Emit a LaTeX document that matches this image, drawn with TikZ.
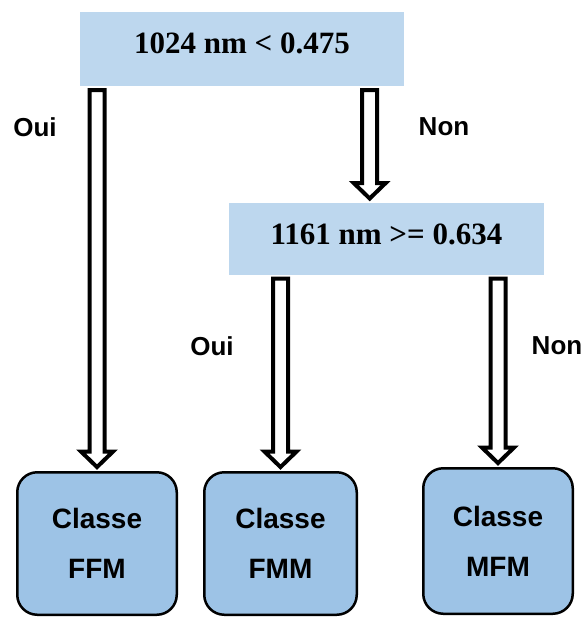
\documentclass[tikz,border=0pt]{standalone}
\usepackage{fontspec}
\setmainfont{Liberation Serif}
\setsansfont{Liberation Sans}
\usetikzlibrary{calc}

\definecolor{testblue}{HTML}{BDD7EE}
\definecolor{classblue}{HTML}{9DC3E6}

\tikzset{
    test/.style={rectangle, fill=testblue, inner sep=0pt, outer sep=2pt, font=\fontsize{15.5}{18}\selectfont\bfseries},
    classbox/.style={rectangle, rounded corners=10pt, draw, line width=1.25pt, fill=classblue, inner sep=0pt, outer sep=2.6pt, align=center, font=\sffamily\bfseries\fontsize{14}{25}\selectfont},
    answer/.style={font=\sffamily\bfseries\fontsize{13}{15}\selectfont},
    blockline/.style={draw=black, fill=white, line width=2pt}
}

% hollow block arrow from #1 down to #2
\newcommand{\blockarrow}[2]{%
    \draw[blockline] ($(#1)+(-7.5,0)$) -- ($(#2)+(-7.5,-15.5)$) -- ($(#2)+(-16,-15.5)$) -- (#2) -- ($(#2)+(16,-15.5)$) -- ($(#2)+(7.5,-15.5)$) -- ($(#1)+(7.5,0)$) -- cycle;}

\begin{document}
\begin{tikzpicture}[x=0.5pt, y=-0.5pt]
    \useasboundingbox (0,0) rectangle (585,617);

    % Tests
    \node[test, minimum width=162pt, minimum height=37pt, text depth=6pt] (q1) at (242,49) {1024 nm < 0.475};
    \node[test, minimum width=157.5pt, minimum height=36pt, text depth=4pt] (q2) at (386.5,238.5) {1161 nm >= 0.634};

    % Classes
    \node[classbox, minimum width=79.75pt, minimum height=71.25pt] (ffm) at (97,543.5) {Classe\\FFM};
    \node[classbox, minimum width=76.25pt, minimum height=71.25pt] (fmm) at (280.5,543.5) {Classe\\FMM};
    \node[classbox, minimum width=74.75pt, minimum height=72.75pt] (mfm) at (498,541) {Classe\\MFM};

    % Answers
    \node[answer] (oui1) at (35,127) {Oui};
    \node[answer] (non1) at (444,127) {Non};
    \node[answer] (oui2) at (212,346) {Oui};
    \node[answer] (non2) at (557,346) {Non};

    % Arrows
    \coordinate (q2in) at ($(q2.north west)!0.448!(q2.north east)$);
    \blockarrow{q1.south -| ffm.north}{ffm.north}
    \blockarrow{q1.south -| q2in}{q2in}
    \blockarrow{q2.south -| fmm.north}{fmm.north}
    \blockarrow{q2.south -| mfm.north}{mfm.north}
\end{tikzpicture}
\end{document}
